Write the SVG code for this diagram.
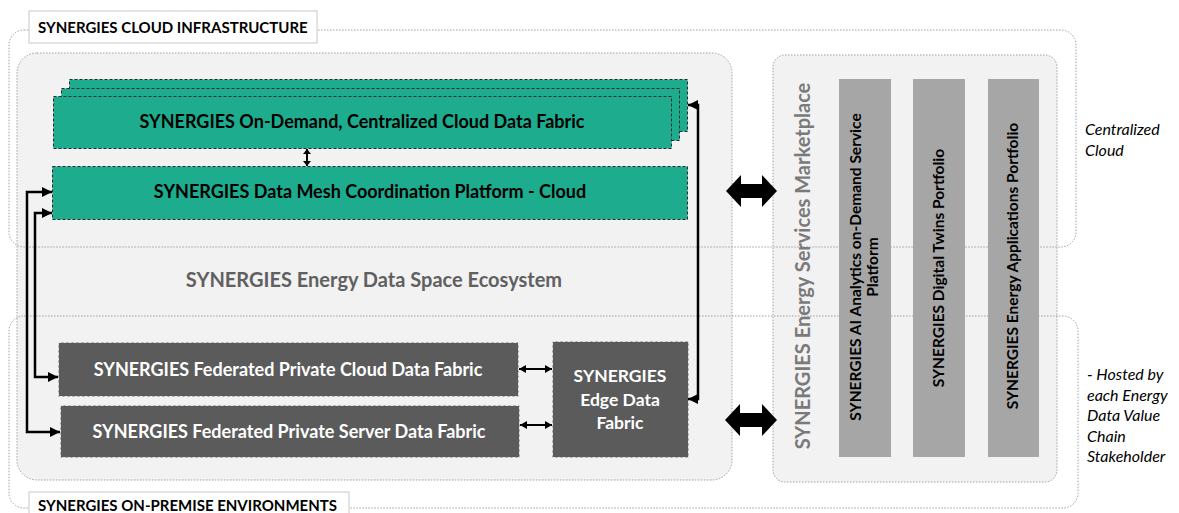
<svg xmlns="http://www.w3.org/2000/svg" width="1179" height="513" viewBox="0 0 1179 513">
<style>
text{font-family:Lato,"Open Sans","Liberation Sans",sans-serif;font-weight:bold}
.container{fill:none;stroke:#a0a0a0;stroke-width:1;stroke-dasharray:1.5,1.5}
.panel{fill:#f2f2f2;stroke:#a0a0a0;stroke-width:1;stroke-dasharray:1.5,1.5}
.label{fill:#fff;stroke:#c8c8c8;stroke-width:1}
.green{fill:#1dac8e;stroke:#2a2a2a;stroke-width:1;stroke-dasharray:3,2}
.dark{fill:#5b5b5b;stroke:#e8e8e8;stroke-width:1;stroke-dasharray:3,2}
.col{fill:#a6a6a6}
.lbl{font-size:15px;fill:#000}
.gt{font-size:18px;fill:#000;text-anchor:middle}
.wt{font-size:18px;fill:#fff;text-anchor:middle}
.et{font-size:17.5px;fill:#fff;text-anchor:middle}
.ct{font-size:15.5px;fill:#000;text-anchor:middle}
.side{font-size:16px;font-style:italic;font-weight:normal;fill:#000}
.conn{fill:none;stroke:#000;stroke-width:2.5}
.thin{fill:none;stroke:#000;stroke-width:2}
.block{fill:#000}
</style>
<defs>
<marker id="ah" markerUnits="userSpaceOnUse" markerWidth="10" markerHeight="10" refX="10" refY="5" orient="auto-start-reverse" viewBox="0 0 10 10">
<path d="M0,0 L10,5 L0,10 z" fill="#000"/>
</marker>
<marker id="ahs" markerUnits="userSpaceOnUse" markerWidth="7" markerHeight="8" refX="7" refY="4" orient="auto-start-reverse" viewBox="0 0 7 8">
<path d="M0,0 L7,4 L0,8 z" fill="#000"/>
</marker>
<marker id="aht" markerUnits="userSpaceOnUse" markerWidth="5" markerHeight="8" refX="5" refY="4" orient="auto-start-reverse" viewBox="0 0 5 8">
<path d="M0,0 L5,4 L0,8 z" fill="#000"/>
</marker>
</defs>

<g id="ecosystem">
<rect class="panel" x="17" y="53" width="715" height="427" rx="20"/>
<text x="374" y="287" style="font-size:20px;fill:#606060;text-anchor:middle">SYNERGIES Energy Data Space Ecosystem</text>
</g>
<g id="marketplace">
<rect class="panel" x="773" y="55" width="284" height="427" rx="12"/>
</g>

<g id="cloud-infrastructure">
<rect class="container" x="9" y="30" width="1067" height="217" rx="15"/>
<rect class="label" x="29" y="11" width="288" height="32"/>
<text class="lbl" x="38" y="33">SYNERGIES CLOUD INFRASTRUCTURE</text>
<text class="side" x="1085" y="135">Centralized</text>
<text class="side" x="1085" y="156">Cloud</text>
</g>
<g id="on-premise">
<rect class="container" x="9" y="316" width="1069" height="192" rx="15"/>
<rect class="label" x="29" y="492" width="320" height="30"/>
<text class="lbl" x="38" y="511">SYNERGIES ON-PREMISE ENVIRONMENTS</text>
<text class="side" x="1087" y="380">- Hosted by</text>
<text class="side" x="1087" y="400.5">each Energy</text>
<text class="side" x="1087" y="421">Data Value</text>
<text class="side" x="1087" y="441.5">Chain</text>
<text class="side" x="1087" y="462">Stakeholder</text>
</g>

<g id="marketplace-title">
<text transform="translate(810,266) rotate(-90)" style="font-size:20px;fill:#7a7a7a;text-anchor:middle">SYNERGIES Energy Services Marketplace</text>
</g>
<g id="ai-analytics">
<rect class="col" x="839" y="79" width="52" height="378"/>
<text class="ct" transform="translate(861,267) rotate(-90)">SYNERGIES AI Analytics on-Demand Service</text>
<text class="ct" transform="translate(878,267) rotate(-90)">Platform</text>
</g>
<g id="digital-twins">
<rect class="col" x="913" y="79" width="52" height="378"/>
<text class="ct" transform="translate(944,268) rotate(-90)">SYNERGIES Digital Twins Portfolio</text>
</g>
<g id="energy-apps">
<rect class="col" x="988" y="79" width="51" height="378"/>
<text class="ct" transform="translate(1018,266) rotate(-90)">SYNERGIES Energy Applications Portfolio</text>
</g>

<g id="cloud-data-fabric">
<rect class="green" x="69.5" y="79.5" width="618" height="52"/>
<rect class="green" x="61.5" y="88.5" width="618" height="52"/>
<rect class="green" x="53.5" y="96.5" width="618" height="52"/>
<text class="gt" x="362" y="128">SYNERGIES On-Demand, Centralized Cloud Data Fabric</text>
</g>
<g id="data-mesh">
<rect class="green" x="52.5" y="166.5" width="635" height="53"/>
<text class="gt" x="370" y="198">SYNERGIES Data Mesh Coordination Platform - Cloud</text>
</g>
<g id="fed-private-cloud">
<rect class="dark" x="58.5" y="342.5" width="460" height="54"/>
<text class="wt" x="288" y="376">SYNERGIES Federated Private Cloud Data Fabric</text>
</g>
<g id="fed-private-server">
<rect class="dark" x="60.5" y="405.5" width="459" height="52"/>
<text class="wt" x="289" y="438">SYNERGIES Federated Private Server Data Fabric</text>
</g>
<g id="edge-data-fabric">
<rect class="dark" x="552.5" y="341.5" width="136" height="116"/>
<text class="et" x="620" y="382">SYNERGIES</text>
<text class="et" x="620" y="406">Edge Data</text>
<text class="et" x="620" y="429">Fabric</text>
</g>

<g id="connectors">
<path class="thin" d="M307,149 V166" marker-start="url(#aht)" marker-end="url(#aht)"/>
<path class="conn" d="M52,192 H27 V432 H60" marker-start="url(#ah)" marker-end="url(#ah)"/>
<path class="conn" d="M52,213 H35 V377 H58" marker-start="url(#ah)" marker-end="url(#ah)"/>
<path class="conn" d="M688,105 H698 V399 H688" marker-start="url(#ah)" marker-end="url(#ah)"/>
<path class="thin" d="M519,369 H552" marker-start="url(#ahs)" marker-end="url(#ahs)"/>
<path class="thin" d="M520,425 H552" marker-start="url(#ahs)" marker-end="url(#ahs)"/>
<path class="block" d="M726,191 L741,175 L741,184 L762,184 L762,175 L777,191 L762,207 L762,198 L741,198 L741,207 Z"/>
<path class="block" d="M725,420 L740,404 L740,413 L762,413 L762,404 L777,420 L762,436 L762,427 L740,427 L740,436 Z"/>
</g>
</svg>
